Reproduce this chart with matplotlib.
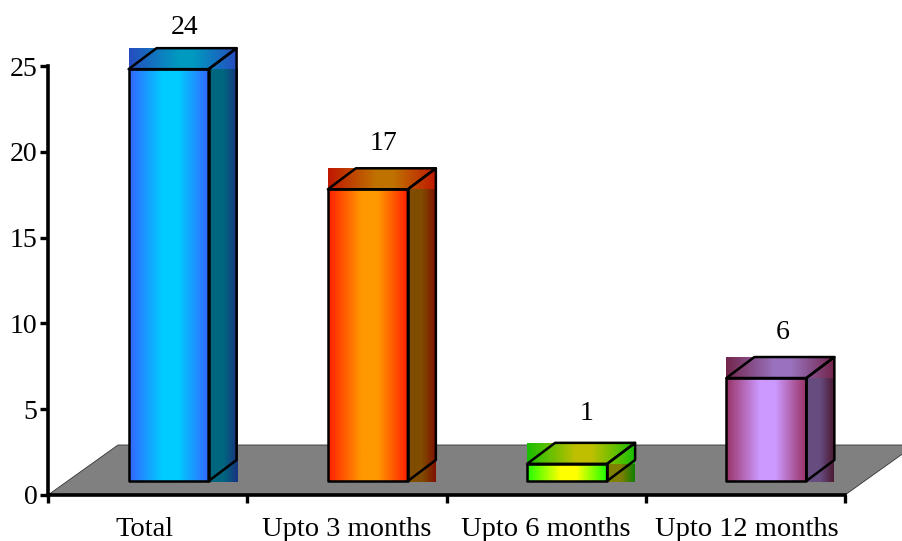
import numpy as np
import matplotlib
matplotlib.use('Agg')
import matplotlib.pyplot as plt
from matplotlib.colors import to_rgb
from matplotlib.patches import Polygon

categories = ['Total', 'Upto 3 months', 'Upto 6 months', 'Upto 12 months']
values = [24, 17, 1, 6]
y_ticks = [0, 5, 10, 15, 20, 25]

# (edge, centre) of the front face gradient
bar_colors = [('#3366ff', '#00ccff'), ('#ff2000', '#ff9900'),
              ('#20ff00', '#ffff00'), ('#993366', '#cc99ff')]
# the labels are not quite evenly placed in the original (pixels)
value_dy = [21, 25, 29, 25]
value_dx = [56, 56, 59, 56]
label_dx = [-3, 0, 0, 1]

W, H = 903, 541
plt.rcParams['font.family'] = ['Liberation Serif', 'DejaVu Serif']

fig = plt.figure(figsize=(W / 100, H / 100), dpi=100)
ax = fig.add_axes([48 / W, 1 - 495 / H, 797 / W, 429 / H])
ax.set_facecolor('none')

# pixel sizes in data units
PX = 4 / 797
PY = 25 / 429


def gradient(ax, stops, colors, x0, x1, y0, y1, z):
    xs = np.linspace(0, 1, 128)
    rgb = np.array([to_rgb(c) if isinstance(c, str) else c for c in colors])
    row = np.stack([np.interp(xs, stops, rgb[:, i]) for i in range(3)], axis=1)
    ax.imshow(row[np.newaxis, :, :], extent=(x0, x1, y0, y1), aspect='auto',
              zorder=z, clip_on=False, interpolation='bilinear')


# floor
floor = Polygon([(0, 0), (70 * PX, 50 * PY), (4 + 70 * PX, 50 * PY), (4, 0)],
                closed=True, facecolor='#808080', edgecolor='#333333', lw=0.6,
                zorder=1, clip_on=False)
ax.add_patch(floor)

base = 14 * PY
depth_x, depth_y = 28 * PX, 21 * PY
bar_w = 80 * PX

for i, (val, (edge, mid)) in enumerate(zip(values, bar_colors)):
    x0 = i + 80.6 * PX
    x1 = x0 + bar_w
    top = base + val
    e, m = np.array(to_rgb(edge)), np.array(to_rgb(mid))

    # side and top are plain rectangles, their corners stick out of the outline
    gradient(ax, [0, 0.3, 0.5, 1], [m * 0.5, m * 0.5, m * 0.5, e * 0.5],
             x1, x1 + depth_x, base - 1 * PY, top, 3)
    gradient(ax, [0, 0.45, 0.6, 1], [e * 0.75, m * 0.75, m * 0.75, e * 0.75],
             x0, x1 + depth_x, top, top + depth_y, 3)
    gradient(ax, [0, 0.42, 0.62, 1], [edge, mid, mid, edge],
             x0, x1, base, top, 4)

    outline = dict(closed=True, fill=False, edgecolor='black', lw=1.8,
                   joinstyle='round', zorder=5, clip_on=False)
    ax.add_patch(Polygon([(x0, base), (x1, base), (x1, top), (x0, top)], **outline))
    ax.add_patch(Polygon([(x0, top), (x0 + depth_x, top + depth_y),
                          (x1 + depth_x, top + depth_y), (x1, top)], **outline))
    ax.add_patch(Polygon([(x1, base), (x1 + depth_x, base + depth_y),
                          (x1 + depth_x, top + depth_y), (x1, top)], **outline))

    ax.annotate(str(val), (x0 + value_dx[i] * PX, top + depth_y),
                xytext=(0, value_dy[i] * 0.72), textcoords='offset points',
                ha='center', va='center', fontsize=20, zorder=6,
                annotation_clip=False)

ax.set_xlim(0, 4)
ax.set_ylim(0, 25)
ax.set_xticks(range(5))
ax.set_xticklabels([])
ax.set_yticks(y_ticks)
ax.tick_params(axis='y', labelsize=20, length=6, width=2.4, pad=1.5)
ax.tick_params(axis='x', length=6, width=2.4)

for i, name in enumerate(categories):
    ax.text(i + 0.5 + label_dx[i] * PX, -35 * PY, name, ha='center', va='center',
            fontsize=20.5, clip_on=False)

for s in ['top', 'right']:
    ax.spines[s].set_visible(False)
for s in ['left', 'bottom']:
    ax.spines[s].set_linewidth(2.6)
    ax.spines[s].set_zorder(2.5)

fig.savefig('out.png', dpi=100)
